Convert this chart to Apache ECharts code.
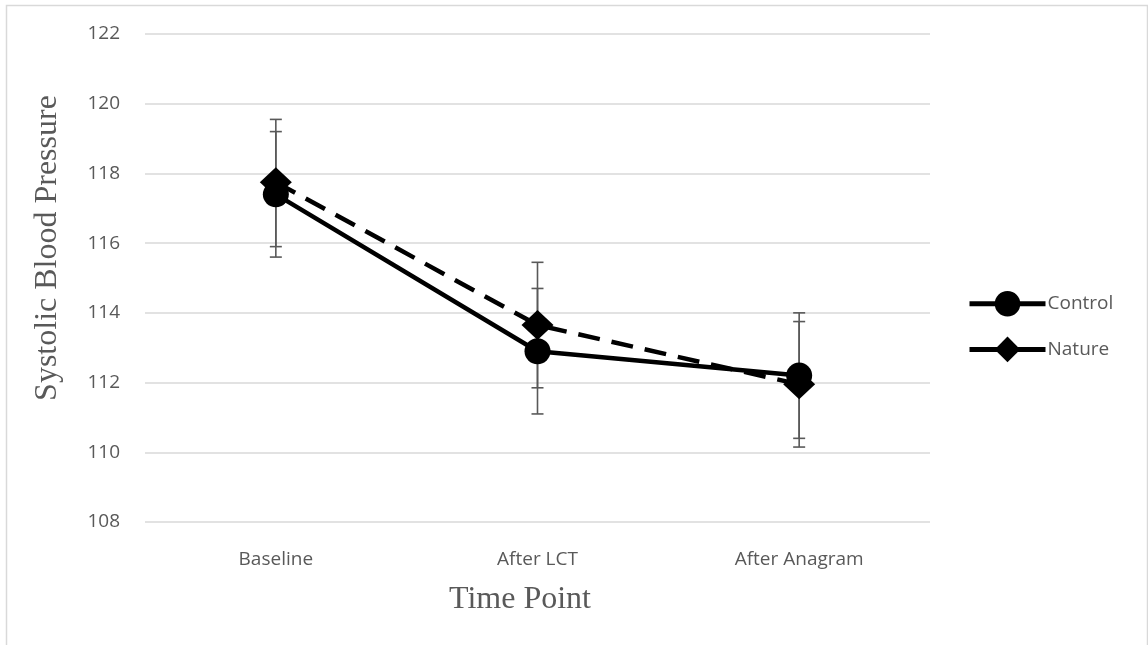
<!DOCTYPE html>
<html>
<head>
<meta charset="utf-8">
<script src="https://cdn.jsdelivr.net/npm/echarts@6/dist/echarts.min.js"></script>
<style>
    html, body { margin: 0; padding: 0; background: #fff; }
    #chart { width: 1148px; height: 645px; }
</style>
</head>
<body>
<div id="chart"></div>
<script>
// 各时间点的收缩压均值及误差线
const categories = ['Baseline', 'After LCT', 'After Anagram'];
const controlMean = [117.4, 112.9, 112.2];
const natureMean = [117.75, 113.65, 111.95];
const controlLow = [115.6, 111.1, 110.4];
const controlHigh = [119.2, 114.7, 114.0];
const natureLow = [115.9, 111.85, 110.15];
const natureHigh = [119.55, 115.45, 113.75];
const yTicks = { min: 108, max: 122, interval: 2 };

const TEXT = '#595959';
const SANS = '"Open Sans", sans-serif';
const SERIF = '"Liberation Serif", "DejaVu Serif", serif';

const myChart = echarts.init(document.getElementById('chart'));

// 误差线: 竖线加上下短横
const errorItem = (low, high) => (params, api) => {
    const i = params.dataIndex;
    const top = api.coord([i, high[i]]);
    const bot = api.coord([i, low[i]]);
    const cap = 6;
    const style = { stroke: TEXT, lineWidth: 1.6 };
    return {
        type: 'group',
        children: [
            { type: 'line', shape: { x1: top[0], y1: top[1], x2: bot[0], y2: bot[1] }, style },
            { type: 'line', shape: { x1: top[0] - cap, y1: top[1], x2: top[0] + cap, y2: top[1] }, style },
            { type: 'line', shape: { x1: bot[0] - cap, y1: bot[1], x2: bot[0] + cap, y2: bot[1] }, style }
        ]
    };
};

const option = {
    animation: false,
    backgroundColor: '#fff',
    graphic: [
        {
            type: 'rect',
            shape: { x: 6.5, y: 5.5, width: 1141, height: 700 },
            style: { fill: 'none', stroke: '#d9d9d9', lineWidth: 1.5 },
            silent: true
        },
        {
            type: 'text',
            x: 48,
            y: 248,
            rotation: Math.PI / 2,
            style: {
                text: 'Systolic Blood Pressure',
                font: '32px ' + SERIF,
                fill: TEXT,
                align: 'center',
                verticalAlign: 'middle'
            }
        },
        {
            type: 'text',
            x: 520,
            y: 600,
            style: {
                text: 'Time Point',
                font: '32px ' + SERIF,
                fill: TEXT,
                align: 'center',
                verticalAlign: 'middle'
            }
        }
    ],
    legend: {
        orient: 'vertical',
        left: 962,
        top: 286,
        itemWidth: 76,
        itemHeight: 32,
        itemGap: 20,
        textStyle: { color: TEXT, fontSize: 19, fontFamily: SANS, padding: [0, 0, 0, -3] },
        data: [
            { name: 'Control', lineStyle: { type: 'solid', width: 5 } },
            { name: 'Nature', lineStyle: { type: 'solid', width: 5 } }
        ]
    },
    grid: { left: 145, right: 218, top: 34, bottom: 123 },
    xAxis: {
        type: 'category',
        data: categories,
        axisLine: { show: false },
        axisTick: { show: false },
        axisLabel: { color: TEXT, fontSize: 19, fontFamily: SANS, margin: 28 }
    },
    yAxis: {
        type: 'value',
        min: yTicks.min,
        max: yTicks.max,
        interval: yTicks.interval,
        axisLine: { show: false },
        axisTick: { show: false },
        axisLabel: { color: TEXT, fontSize: 19, fontFamily: SANS, margin: 25 },
        splitLine: { lineStyle: { color: '#d9d9d9', width: 1.5 } }
    },
    series: [
        {
            type: 'custom',
            renderItem: errorItem(controlLow, controlHigh),
            data: categories.map((c, i) => [i]),
            z: 1,
            silent: true
        },
        {
            type: 'custom',
            renderItem: errorItem(natureLow, natureHigh),
            data: categories.map((c, i) => [i]),
            z: 1,
            silent: true
        },
        {
            name: 'Control',
            type: 'line',
            data: controlMean,
            symbol: 'circle',
            symbolSize: 26,
            itemStyle: { color: '#000' },
            lineStyle: { color: '#000', width: 4.5 },
            z: 3
        },
        {
            name: 'Nature',
            type: 'line',
            data: natureMean,
            symbol: 'diamond',
            symbolSize: [32, 30],
            itemStyle: { color: '#000' },
            lineStyle: { color: '#000', width: 4.5, type: [22, 12] },
            z: 2
        }
    ]
};

myChart.setOption(option);
</script>
</body>
</html>
